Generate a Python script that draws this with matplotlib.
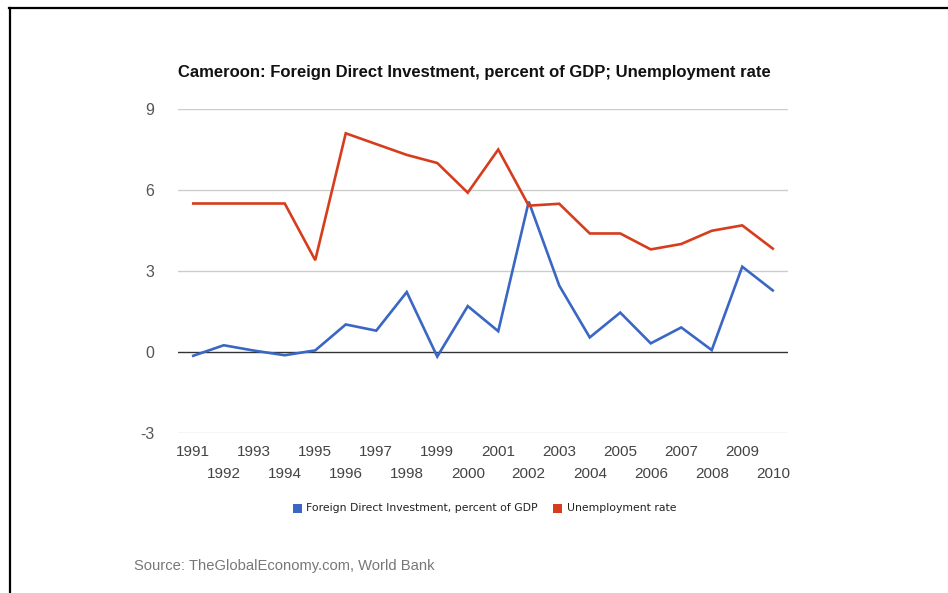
import matplotlib
matplotlib.use("Agg")
import matplotlib.pyplot as plt
from matplotlib.lines import Line2D
from matplotlib.patches import Rectangle

years = list(range(1991, 2011))
fdi = [-0.14, 0.25, 0.05, -0.12, 0.06, 1.02, 0.79, 2.22, -0.17, 1.70,
       0.77, 5.57, 2.46, 0.54, 1.46, 0.32, 0.91, 0.07, 3.16, 2.28]
unemployment = [5.5, 5.5, 5.5, 5.5, 3.4, 8.1, 7.7, 7.3, 7.0, 5.9,
                7.5, 5.42, 5.49, 4.39, 4.39, 3.8, 4.0, 4.49, 4.69, 3.83]
y_ticks = [-3, 0, 3, 6, 9]

title = "Cameroon: Foreign Direct Investment, percent of GDP; Unemployment rate"
series_names = ["Foreign Direct Investment, percent of GDP", "Unemployment rate"]
source = "Source: TheGlobalEconomy.com, World Bank"

blue = "#3a66c4"
red = "#d63d1c"

W, H = 948, 593
fig = plt.figure(figsize=(W / 100, H / 100), dpi=100)
fig.patch.set_facecolor("white")

ax = fig.add_axes([178 / W, 1 - 433 / H, 610 / W, 324 / H])
idx = list(range(len(years)))
ax.plot(idx, fdi, color=blue, lw=1.9, solid_joinstyle="miter", zorder=3)
ax.plot(idx, unemployment, color=red, lw=1.9, solid_joinstyle="miter", zorder=3)

ax.set_xlim(-0.5, len(years) - 0.5)
ax.set_ylim(-3, 9)
ax.set_yticks(y_ticks)
ax.set_yticklabels([str(t) for t in y_ticks])
for t in y_ticks:
    if t == 0:
        ax.axhline(t, color="#333333", lw=1.0, zorder=2)
    else:
        ax.axhline(t, color="#cccccc", lw=1.0, zorder=1)

for s in ax.spines.values():
    s.set_visible(False)
ax.tick_params(axis="y", length=0, pad=17, labelsize=11.5, labelcolor="#555555")
for lab in ax.get_yticklabels():
    lab.set_fontfamily("Liberation Sans")

# two staggered rows of year labels
ax.set_xticks([])
for i, yr in enumerate(years):
    row = 0 if i % 2 == 0 else 1
    ax.annotate(str(yr), xy=(i, -3), xycoords="data",
                xytext=(0, -13.7 - row * 15.8), textcoords="offset points",
                ha="center", va="center", fontsize=11,
                family="Liberation Sans", color="#444444")

fig.text(178 / W, 1 - 73 / H, title, ha="left", va="center",
         fontsize=12, fontweight="bold", family="Liberation Sans",
         color="#111111")

# legend row
leg_y = 1 - 508 / H
sq = 9
fig.add_artist(Rectangle((293 / W, leg_y - sq / 2 / H), sq / W, sq / H,
                         transform=fig.transFigure, color=blue, lw=0))
fig.text(306 / W, leg_y, series_names[0], ha="left", va="center",
         fontsize=7.8, color="#222222")
fig.add_artist(Rectangle((553 / W, leg_y - sq / 2 / H), sq / W, sq / H,
                         transform=fig.transFigure, color=red, lw=0))
fig.text(567 / W, leg_y, series_names[1], ha="left", va="center",
         fontsize=7.8, color="#222222")

fig.text(134 / W, 1 - 566 / H, source, ha="left", va="center",
         fontsize=10.6, family="Liberation Sans", color="#777777")

# frame lines along the top and left edge
fig.add_artist(Line2D([9 / W, 1], [1 - 8 / H, 1 - 8 / H], transform=fig.transFigure,
                      color="black", lw=1.6))
fig.add_artist(Line2D([10 / W, 10 / W], [0, 1 - 8 / H], transform=fig.transFigure,
                      color="black", lw=1.6))

fig.savefig("out.png", dpi=100, facecolor="white")
